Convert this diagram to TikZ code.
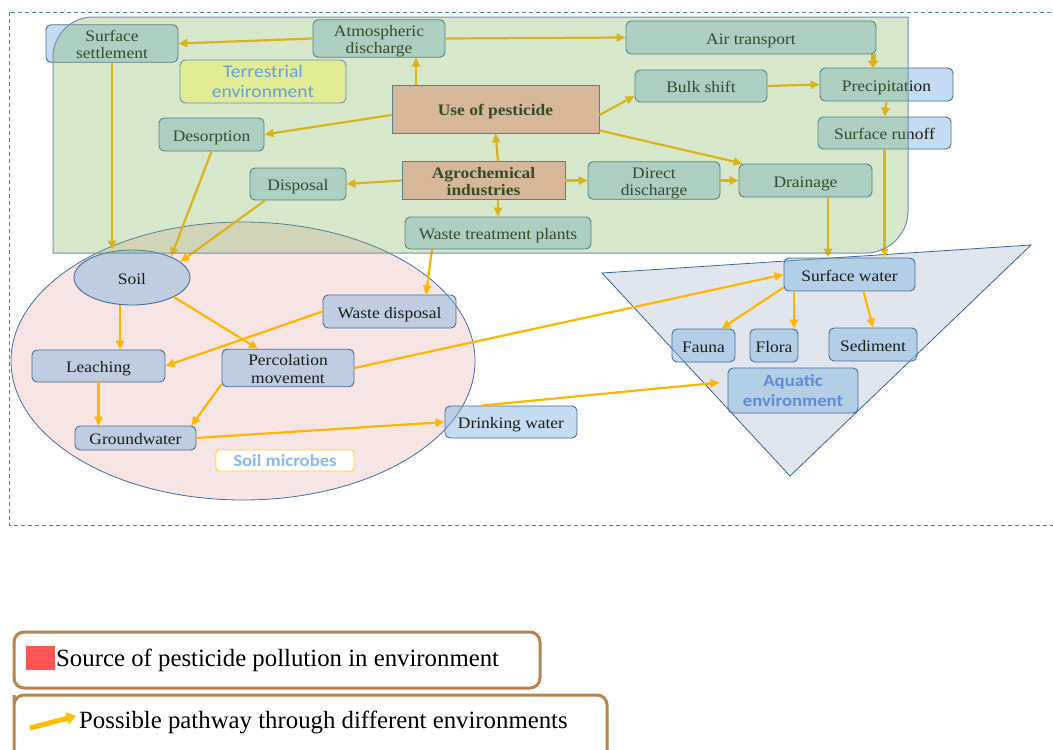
\documentclass[tikz,border=0pt]{standalone}
\usepackage{fontspec}
\setmainfont{Liberation Serif}[FakeStretch=1.09]
\newfontfamily\legfont{Liberation Serif}
\newfontfamily\calfont{Carlito}[FakeStretch=1.1]
\usetikzlibrary{arrows.meta,shapes.geometric}
\definecolor{framec}{RGB}{70,130,190}
\definecolor{greenf}{RGB}{125,177,88}
\definecolor{greene}{RGB}{110,145,180}
\definecolor{pinkf}{RGB}{247,228,228}
\definecolor{elle}{RGB}{70,110,160}
\definecolor{trif}{RGB}{225,230,238}
\definecolor{trie}{RGB}{60,100,150}
\definecolor{nodef}{RGB}{126,177,222}
\definecolor{nodee}{RGB}{70,110,150}
\definecolor{brownf}{RGB}{252,188,186}
\definecolor{browne}{RGB}{70,110,160}
\definecolor{arrc}{RGB}{255,182,0}
\definecolor{lege}{RGB}{183,133,82}
\definecolor{redsq}{RGB}{255,85,85}
\definecolor{legarr}{RGB}{255,190,0}
\definecolor{terrf}{RGB}{225,235,150}
\definecolor{terrt}{RGB}{100,160,225}
\definecolor{txtc}{RGB}{25,30,25}
\definecolor{micb}{RGB}{255,210,60}
\definecolor{mict}{RGB}{140,185,240}
\definecolor{aquat}{RGB}{95,140,215}
\newcommand{\nodefnt}{\fontsize{16}{17.5}\selectfont}
\tikzset{
  nbox/.style={draw=nodee, line width=0.9pt, rounded corners=5pt, fill=nodef, fill opacity=0.45, draw opacity=1, text opacity=1, font=\nodefnt, text=txtc, align=center, inner sep=0pt},
  sbox/.style={draw=browne, line width=0.8pt, fill=brownf, font=\nodefnt\bfseries, text=txtc, align=center, inner sep=0pt},
  one/.style={text height=17pt, text depth=3.5pt},
  two/.style={text height=34pt, text depth=3.5pt},
  tbox/.style={draw=greene, line width=0.9pt, rounded corners=6pt, fill=terrf, font=\calfont\fontsize{17.8}{20}\selectfont, text=terrt, align=center, inner sep=0pt},
  mbox/.style={draw=micb, line width=0.9pt, rounded corners=3pt, fill=white, font=\calfont\bfseries\fontsize{17}{20}\selectfont, text=mict, align=center, inner sep=0pt},
  abox/.style={nbox, font=\calfont\bfseries\fontsize{17}{20}\selectfont, text=aquat},
  flow/.style={draw=arrc, line width=2.2pt, -{Triangle[length=9pt,width=8pt]}},
  legbox/.style={draw=lege, line width=3pt, rounded corners=10pt},
  legtext/.style={font=\legfont\fontsize{24.8}{28}\selectfont, text=black, inner sep=0pt, anchor=west},
}
\begin{document}
\begin{tikzpicture}[x=1pt,y=-1pt]
\useasboundingbox (0,0) rectangle (1053,750);
\fill[white] (0,0) rectangle (1053,750);
% outer dashed frame
\draw[framec, line width=0.8pt, dash pattern=on 4pt off 3pt] (9,12) rectangle (1060,525);
% soil region
\draw[fill=pinkf, draw=elle, line width=0.8pt] (243,361) ellipse [x radius=232pt, y radius=139pt];
% aquatic region
\draw[fill=trif, draw=trie, line width=0.8pt] (602,273) -- (1031,245) -- (790,476) -- cycle;

% nodes
\node[nbox, two, minimum width=132pt, minimum height=33pt] (ss) at (112,43.5) {Surface\\settlement};
\node[nbox, two, minimum width=132pt, minimum height=33pt] (atm) at (379,38.5) {Atmospheric\\discharge};
\node[nbox, one, minimum width=250pt, minimum height=33pt] (air) at (751,37.5) {Air transport};
\node[sbox, one, minimum width=207pt, minimum height=48pt] (use) at (495.5,109) {Use of pesticide};
\node[nbox, one, minimum width=132pt, minimum height=32pt] (bulk) at (701,86) {Bulk shift};
\node[nbox, one, minimum width=133pt, minimum height=33pt] (prec) at (886.5,84.5) {Precipitation};
\node[nbox, one, minimum width=105pt, minimum height=33pt] (des) at (211.5,134.5) {Desorption};
\node[nbox, one, minimum width=133pt, minimum height=32pt] (run) at (884.5,133) {Surface runoff};
\node[nbox, one, minimum width=96pt, minimum height=32pt] (disp) at (298,184) {Disposal};
\node[sbox, two, minimum width=163pt, minimum height=33pt] (agro) at (483.5,180.5) {Agrochemical\\industries};
\node[nbox, two, minimum width=132pt, minimum height=33pt] (dd) at (654,180.5) {Direct\\discharge};
\node[nbox, one, minimum width=133pt, minimum height=33pt] (drain) at (805.5,180.5) {Drainage};
\node[nbox, one, minimum width=186pt, minimum height=32pt] (wtp) at (498,233) {Waste treatment plants};
\node[nbox, one, ellipse, sharp corners, minimum width=116pt, minimum height=55pt] (soil) at (132,277.5) {Soil};
\node[nbox, one, minimum width=133pt, minimum height=33pt] (wd) at (389.5,311.5) {Waste disposal};
\node[nbox, one, minimum width=133pt, minimum height=32pt] (leach) at (98.5,366) {Leaching};
\node[nbox, two, minimum width=132pt, minimum height=32pt] (perc) at (288,368) {Percolation\\movement};
\node[nbox, one, minimum width=121pt, minimum height=24pt] (gw) at (135.5,438) {Groundwater};
\node[mbox, minimum width=138pt, minimum height=21pt] (mic) at (285,460.5) {Soil microbes};
\node[nbox, one, minimum width=132pt, minimum height=32pt] (dw) at (511,422) {Drinking water};
\node[nbox, one, minimum width=131pt, minimum height=33pt] (sw) at (849.5,274.5) {Surface water};
\node[nbox, one, minimum width=63pt, minimum height=33pt] (fauna) at (703.5,345.5) {Fauna};
\node[nbox, one, minimum width=48pt, minimum height=33pt] (flora) at (774,345.5) {Flora};
\node[nbox, one, minimum width=88pt, minimum height=33pt] (sed) at (873,344.5) {Sediment};
\node[abox, minimum width=130pt, minimum height=45pt] (aqua) at (793,390.5) {Aquatic\\environment};

% connectors
\draw[flow] (atm.west) -- (ss.east);
\draw[flow] (atm.east) -- (air.west);
\draw[flow] ([xshift=-79.5pt]use.north) -- ([xshift=37pt]atm.south);
\draw[draw=arrc, line width=5pt, -{Triangle[length=7pt,width=11pt]}] ([xshift=122pt]air.south) -- ([xshift=-13.5pt]prec.north);
\draw[flow] ([yshift=-6pt]use.west) -- (des.east);
\draw[flow] ([yshift=-6pt]use.east) -- ([yshift=-10pt]bulk.west);
\draw[flow] ([yshift=3pt]use.south east) -- ([xshift=4pt]drain.north west);
\draw[flow] (bulk.east) -- (prec.west);
\draw[flow] (prec.south) -- (run.north);
\draw[flow] ([xshift=14.5pt]agro.north) -- (use.south);
\draw[flow] (agro.west) -- (disp.east);
\draw[flow] (agro.east) -- (dd.west);
\draw[flow] ([xshift=14.5pt]agro.south) -- (wtp.north);
\draw[flow] (dd.east) -- (drain.west);
\draw[flow] (ss.south) -- (ss.south |- soil.north);
\draw[flow] (des.south) -- (soil.28);
\draw[flow] ([xshift=-33pt]disp.south) -- (soil.18);
\draw[flow] ([xshift=-66pt]wtp.south) -- ([xshift=36.5pt]wd.north);
\draw[flow] ([xshift=22.5pt]drain.south) -- ([xshift=22.5pt]drain.south |- sw.north);
\draw[flow] (run.south) -- (run.south |- sw.north);
\draw[flow] ([xshift=-12pt]soil.south) -- ([xshift=-12pt]soil.south |- leach.north);
\draw[flow] (soil.-25) -- ([xshift=-30pt]perc.north);
\draw[flow] (wd.west) -- (leach.east);
\draw[flow] (leach.south) -- (leach.south |- gw.north);
\draw[flow] ([yshift=3pt]perc.south west) -- ([xshift=-5pt]gw.north east);
\draw[flow] (perc.east) -- (sw.west);
\draw[flow] (gw.east) -- (dw.west);
\draw[flow] ([xshift=-29pt]dw.north) -- ([xshift=-8pt,yshift=8pt]aqua.west);
\draw[flow] ([yshift=4pt]sw.south west) -- ([xshift=18pt]fauna.north);
\draw[flow] ([xshift=-55.5pt]sw.south) -- ([xshift=-55.5pt]sw.south |- flora.north);
\draw[flow] ([xshift=14pt]sw.south) -- (sed.north);

% terrestrial region, a translucent layer over its contents
\draw[fill=greenf, fill opacity=0.3, draw=greene, draw opacity=1, line width=1pt]
  (53,253) -- (53,57) .. controls (53,35) and (71,17) .. (93,17) -- (908,17)
  -- (908,211) .. controls (908,234) and (889,253) .. (866,253) -- cycle;
\node[tbox, minimum width=166pt, minimum height=43pt] (terr) at (263,81.5) {Terrestrial\\environment};

% legend
\node[legbox, minimum width=526pt, minimum height=56pt] (leg1) at (277,660) {};
\node[fill=redsq, minimum width=29pt, minimum height=24pt, inner sep=0pt] (rsq) at (40,658) {};
\node[legtext] (leg1t) at (56,660) {Source of pesticide pollution in environment};
\draw[legbox] (14,760) -- (14,705) [rounded corners=10pt] -- (14,695) -- (607,695) -- (607,760);
\coordinate (la1) at (30,728);
\coordinate (la2) at (76,716);
\draw[draw=legarr, line width=5pt, -{Triangle[length=9pt,width=12pt]}] (la1) -- (la2);
\node[legtext] (leg2t) at (79,722) {Possible pathway through different environments};
\end{tikzpicture}
\end{document}
